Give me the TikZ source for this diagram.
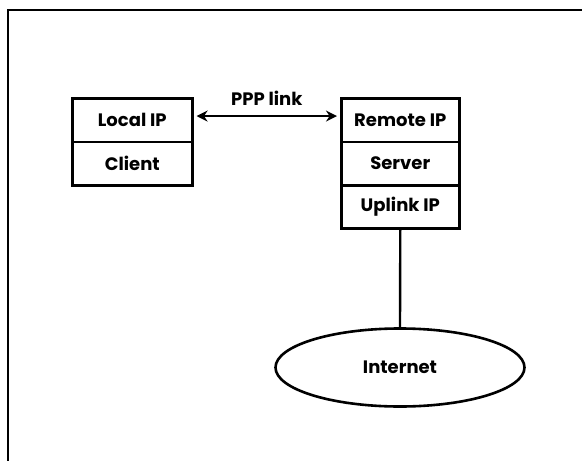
\documentclass[tikz,border=0pt]{standalone}
\usepackage{fontspec}
\setmainfont{Poppins}
\usetikzlibrary{arrows.meta,shapes.geometric}
\begin{document}
\begin{tikzpicture}[x=1pt,y=-1pt,
  txt/.style={font=\fontsize{18}{20}\selectfont\bfseries},
  cell/.style={draw,line width=2.6pt,minimum width=120pt,minimum height=43.5pt,inner sep=0pt,txt,anchor=north west},
  link/.style={line width=2.4pt},
  lbl/.style={txt,inner sep=0pt}]
\useasboundingbox (0,0) rectangle (582,461);
\draw[line width=2.6pt] (8,470) -- (8,10) -- (590,10);
\node[cell] (local) at (71,97) {Local IP};
\node[cell] (client) at (71,140.5) {Client};
\node[cell,minimum width=118pt] (remote) at (340,97) {Remote IP};
\node[cell,minimum width=118pt] (server) at (340,140.5) {Server};
\node[cell,minimum width=118pt,minimum height=43pt] (uplink) at (340,184) {Uplink IP};
\node[draw,ellipse,line width=2.6pt,minimum width=249pt,minimum height=78pt,inner sep=0pt,txt] (internet) at (400,367.5) {Internet};
\draw[link,{Stealth[length=11pt,width=11pt]}-{Stealth[length=11pt,width=11pt]}] ([xshift=3pt,yshift=4pt]local.east) -- ([xshift=-3pt,yshift=4pt]remote.west) node[lbl,midway,above=9pt] (ppp) {PPP link};
\draw[link] (uplink.south) -- (internet.north);
\end{tikzpicture}
\end{document}
